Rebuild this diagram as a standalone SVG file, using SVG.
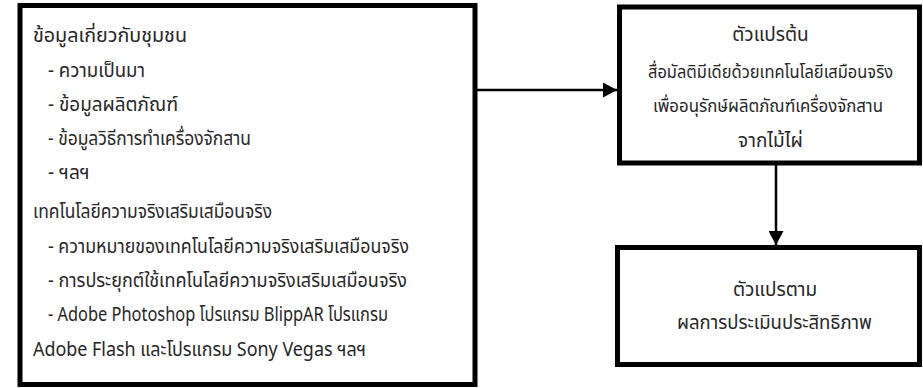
<svg xmlns="http://www.w3.org/2000/svg" width="923" height="388" viewBox="0 0 923 388">
<style>
.box{fill:#fff;stroke:#000;stroke-width:5;stroke-linejoin:miter}
.t{font-family:"Noto Sans Thai","Leelawadee UI","Tahoma","Noto Sans","DejaVu Sans",sans-serif;font-size:19px;fill:#262626}
.s{font-size:17.5px}
.c{text-anchor:middle}
.ln{stroke:#000;stroke-width:2.5;fill:none}
</style>
<defs>
<marker id="ah" viewBox="0 0 14 15" refX="14" refY="7.5" markerWidth="14" markerHeight="15" markerUnits="userSpaceOnUse" orient="auto">
<path d="M0,0 L14,7.5 L0,15 Z" fill="#000"/>
</marker>
</defs>
<rect width="923" height="388" fill="#fff"/>
<g id="connectors">
<line class="ln" x1="477" y1="90" x2="617" y2="90" marker-end="url(#ah)"/>
<line class="ln" x1="776" y1="165" x2="776" y2="245" marker-end="url(#ah)"/>
</g>
<g id="info">
<rect class="box" x="20" y="5.5" width="455" height="379"/>
<text class="t" x="33" y="42" textLength="154" lengthAdjust="spacingAndGlyphs">ข้อมูลเกี่ยวกับชุมชน</text>
<text class="t" x="48" y="77" textLength="97" lengthAdjust="spacingAndGlyphs">- ความเป็นมา</text>
<text class="t" x="48" y="111" textLength="130" lengthAdjust="spacingAndGlyphs">- ข้อมูลผลิตภัณฑ์</text>
<text class="t" x="48" y="145" textLength="203" lengthAdjust="spacingAndGlyphs">- ข้อมูลวิธีการทำเครื่องจักสาน</text>
<text class="t" x="48" y="179">- ฯลฯ</text>
<text class="t" x="33" y="218" textLength="239" lengthAdjust="spacingAndGlyphs">เทคโนโลยีความจริงเสริมเสมือนจริง</text>
<text class="t" x="48" y="253" textLength="361" lengthAdjust="spacingAndGlyphs">- ความหมายของเทคโนโลยีความจริงเสริมเสมือนจริง</text>
<text class="t" x="48" y="287" textLength="359" lengthAdjust="spacingAndGlyphs">- การประยุกต์ใช้เทคโนโลยีความจริงเสริมเสมือนจริง</text>
<text class="t" x="48" y="321" textLength="340" lengthAdjust="spacingAndGlyphs">- Adobe Photoshop โปรแกรม BlippAR โปรแกรม</text>
<text class="t" x="33" y="356" textLength="333" lengthAdjust="spacingAndGlyphs">Adobe Flash และโปรแกรม Sony Vegas ฯลฯ</text>
</g>
<g id="independent">
<rect class="box" x="619.5" y="7" width="300" height="156"/>
<text class="t c" x="770.5" y="41">ตัวแปรต้น</text>
<text class="t s c" x="770.5" y="78" textLength="245" lengthAdjust="spacingAndGlyphs">สื่อมัลติมีเดียด้วยเทคโนโลยีเสมือนจริง</text>
<text class="t s c" x="768" y="112" textLength="230" lengthAdjust="spacingAndGlyphs">เพื่ออนุรักษ์ผลิตภัณฑ์เครื่องจักสาน</text>
<text class="t c" x="770.5" y="147">จากไม้ไผ่</text>
</g>
<g id="dependent">
<rect class="box" x="617.5" y="247.5" width="302" height="117"/>
<text class="t c" x="775" y="296">ตัวแปรตาม</text>
<text class="t c" x="774.5" y="329" textLength="195" lengthAdjust="spacingAndGlyphs">ผลการประเมินประสิทธิภาพ</text>
</g>
</svg>
